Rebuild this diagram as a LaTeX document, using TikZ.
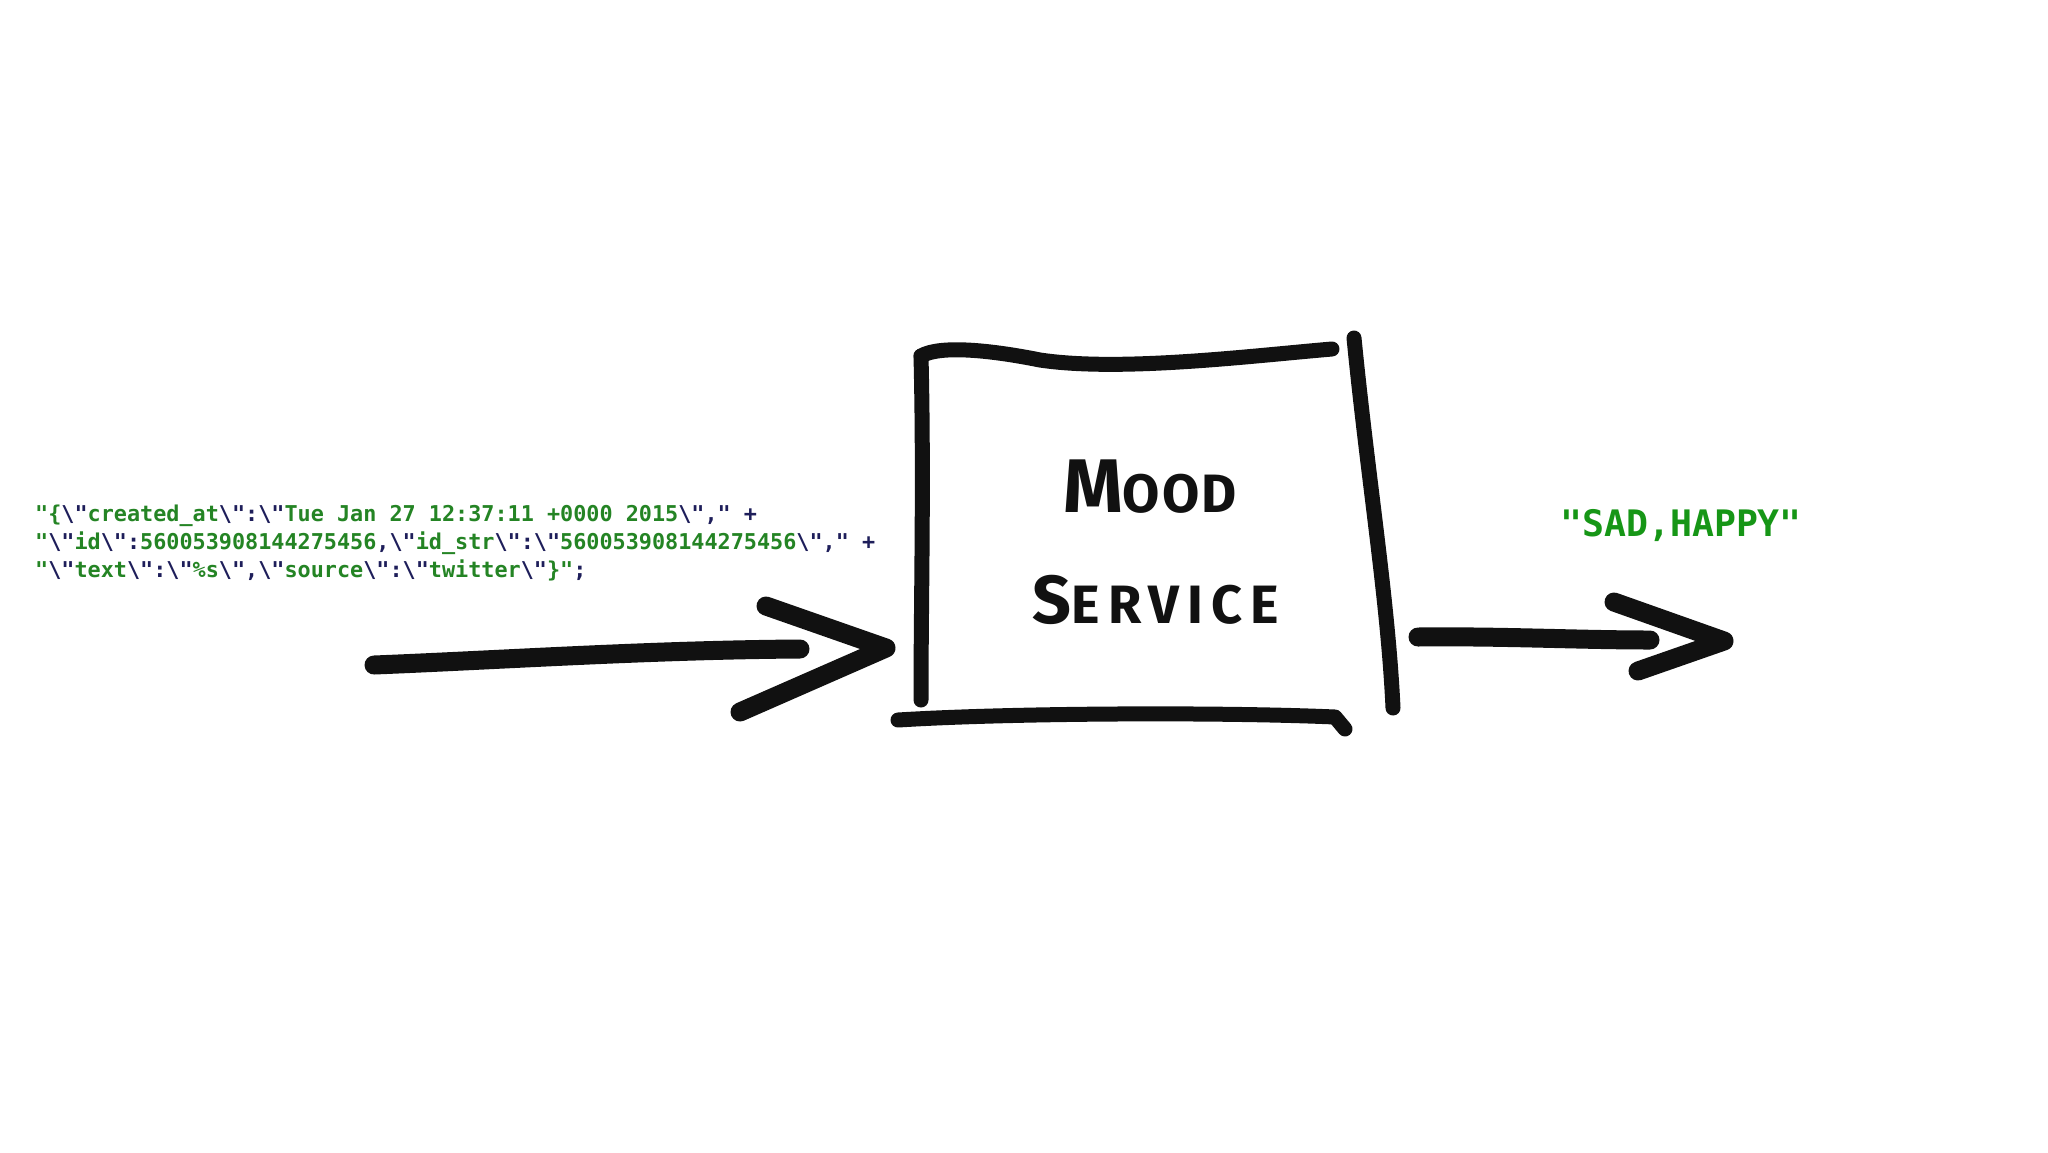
\documentclass[tikz,border=0pt]{standalone}
\usepackage{fontspec}
\newfontfamily\codefont{DejaVu Sans Mono}
\newfontfamily\handfontA[LetterSpace=4]{Fira Sans}
\newfontfamily\handfontB[LetterSpace=15]{Fira Sans}
\definecolor{codegreen}{RGB}{36,132,36}
\definecolor{codenavy}{RGB}{30,30,90}
\definecolor{outgreen}{RGB}{22,150,22}
\definecolor{ink}{RGB}{17,17,17}
\newcommand\cg[1]{\textcolor{codegreen}{#1}}
\newcommand\cn[1]{\textcolor{codenavy}{#1}}
\newcommand\bs{\textbackslash}
\begin{document}
\begin{tikzpicture}[x=1pt,y=-1pt,
  marker/.style={draw=ink, line width=15pt, line cap=round, line join=round},
  arrowstroke/.style={draw=ink, line width=19pt, line cap=round, line join=round},
  codetext/.style={anchor=base west, inner sep=0pt, align=left,
    font=\codefont\bfseries\fontsize{21.8}{28}\selectfont},
  outtext/.style={anchor=base west, inner sep=0pt, text=outgreen,
    font=\codefont\bfseries\fontsize{36.5}{36.5}\selectfont},
  handtext/.style={anchor=base, inner sep=0pt, text=ink}]
\fill[white] (0,0) rectangle (2048,1152);
\useasboundingbox (0,0) rectangle (2048,1152);

% input code (base anchor = baseline of last line)
\node[codetext] (code) at (35,577) {%
\cg{"\{}\cn{\bs"}\cg{created\_at}\cn{\bs":\bs"}\cg{Tue Jan 27 12:37:11 +0000 2015}\cn{\bs"," +}\\
\cg{"}\cn{\bs"}\cg{id}\cn{\bs":}\cg{560053908144275456}\cn{,\bs"}\cg{id\_str}\cn{\bs":\bs"}\cg{560053908144275456}\cn{\bs"," +}\\
\cg{"}\cn{\bs"}\cg{text}\cn{\bs":\bs"}\cg{\%s}\cn{\bs",\bs"}\cg{source}\cn{\bs":\bs"}\cg{twitter}\cn{\bs"}\cg{\}"}\cn{;}};

% output
\node[outtext] (out) at (1560,536) {"SAD,HAPPY"};

% box (hand drawn)
\coordinate (tl) at (921,356);
\coordinate (tr) at (1332,349);
\coordinate (bl) at (921,700);
\coordinate (rt) at (1354,338);
\coordinate (rb) at (1393,708);
\coordinate (bL) at (898,720);
\coordinate (bR) at (1335,717);
\coordinate (bH) at (1345,729);
\draw[marker] (tl) .. controls (940,345) and (990,350) .. (1040,360)
   .. controls (1120,372) and (1250,356) .. (tr);
\draw[marker] (tl) .. controls (924,480) and (921,600) .. (bl);
\draw[marker] (rt) .. controls (1368,480) and (1388,600) .. (rb);
\draw[marker] (bL) .. controls (1010,713) and (1220,712) .. (bR) -- (bH);

% label
\node[handtext, font=\handfontA\bfseries] (mood) at (1150,512) {{\fontsize{76}{76}\selectfont M}{\fontsize{54}{54}\selectfont OOD}};
\node[handtext, font=\handfontB\bfseries] (service) at (1156,623) {{\fontsize{68}{68}\selectfont S}{\fontsize{54}{54}\selectfont ERVICE}};

% input arrow
\coordinate (inS) at (374,665);
\coordinate (inE) at (800,649);
\coordinate (inU) at (766,606);
\coordinate (inT) at (886,648);
\coordinate (inD) at (740,712);
\draw[arrowstroke] (inS) .. controls (500,660) and (650,650) .. (inE);
\draw[arrowstroke] (inU) -- (inT) -- (inD);

% output arrow
\coordinate (ouS) at (1418,637);
\coordinate (ouE) at (1650,640);
\coordinate (ouU) at (1614,602);
\coordinate (ouT) at (1724,641);
\coordinate (ouD) at (1638,671);
\draw[arrowstroke] (ouS) .. controls (1500,636) and (1580,640) .. (ouE);
\draw[arrowstroke] (ouU) -- (ouT) -- (ouD);
\end{tikzpicture}
\end{document}
